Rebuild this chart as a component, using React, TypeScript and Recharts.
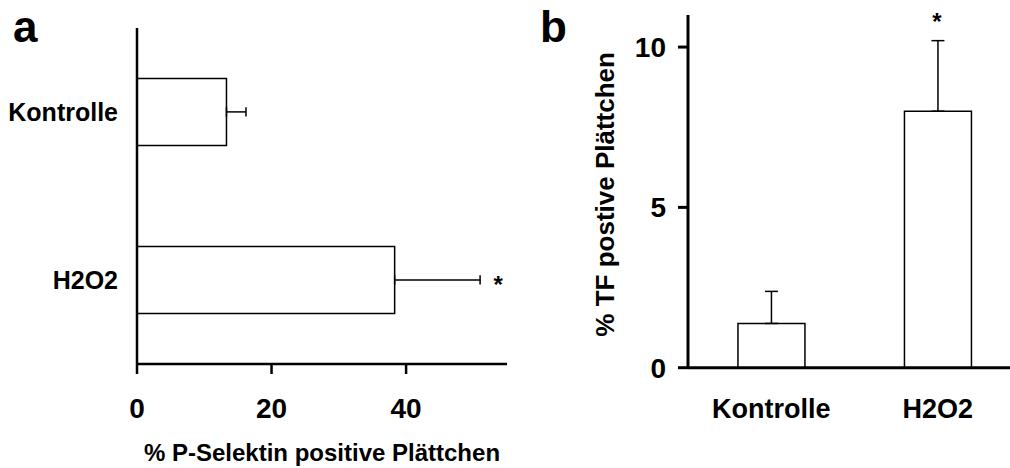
import { Bar, BarChart, ErrorBar, LabelList, XAxis, YAxis } from 'recharts';

// panel a: P-Selektin (horizontal bars), panel b: TF (vertical bars)
const FONT = '"Liberation Sans", Arial, sans-serif';

const catsA = ['Kontrolle', 'H2O2'];
const pselMean = [13.3, 38.3];
const pselErr = [2.9, 12.7];
const starsA = ['', '*'];
const ticksA = [0, 20, 40];

const catsB = ['Kontrolle', 'H2O2'];
const tfMean = [1.38, 8.0];
const tfErr = [1.0, 2.2];
const starsB = ['', '*'];
const ticksB = [0, 5, 10];

const dataA = catsA.map((name, i) => ({
  name,
  value: pselMean[i],
  err: [0, pselErr[i]],
  star: starsA[i],
}));

const dataB = catsB.map((name, i) => ({
  name,
  value: tfMean[i],
  err: [0, tfErr[i]],
  star: starsB[i],
}));

const bold = { fill: '#000', fontFamily: FONT, fontWeight: 'bold' as const };

function pickIndex(props: any, stars: string[]) {
  return typeof props.index === 'number' ? props.index : stars.indexOf(props.value);
}

// star placed to the right of the error bar end (scale taken from the bar itself)
function StarRight(props: any) {
  const i = pickIndex(props, starsA);
  if (i < 0 || !starsA[i]) return null;
  const vb = props.viewBox ?? props;
  const end = vb.x + (vb.width * (pselMean[i] + pselErr[i])) / pselMean[i];
  return (
    <text x={end + 18} y={vb.y + vb.height / 2 + 13} textAnchor="middle" fontSize={24} {...bold}>
      {starsA[i]}
    </text>
  );
}

// star placed above the error bar top
function StarTop(props: any) {
  const i = pickIndex(props, starsB);
  if (i < 0 || !starsB[i]) return null;
  const vb = props.viewBox ?? props;
  const base = vb.y + vb.height;
  const top = base - (vb.height * (tfMean[i] + tfErr[i])) / tfMean[i];
  return (
    <text x={vb.x + vb.width / 2 - 1} y={top - 11} textAnchor="middle" fontSize={24} {...bold}>
      {starsB[i]}
    </text>
  );
}

function TfLabel(props: any) {
  const { x, y, height } = props.viewBox;
  const cx = x + 74;
  const cy = y + height / 2 + 3;
  return (
    <text x={cx} y={cy} transform={`rotate(-90, ${cx}, ${cy})`} textAnchor="middle" fontSize={26} {...bold}>
      % TF postive Plättchen
    </text>
  );
}

export default function App() {
  return (
    <div
      style={{
        position: 'fixed',
        left: 0,
        top: 0,
        width: 1010,
        height: 468,
        overflow: 'hidden',
        background: '#fff',
        fontFamily: FONT,
      }}
    >
      <div style={{ position: 'absolute', left: 13, top: 4.5, fontSize: 44, lineHeight: 1, fontWeight: 'bold' }}>a</div>
      <div style={{ position: 'absolute', left: 540, top: 4.5, fontSize: 44, lineHeight: 1, fontWeight: 'bold' }}>b</div>

      <div style={{ position: 'absolute', left: 0, top: 0 }}>
        <BarChart
          width={520}
          height={468}
          data={dataA}
          layout="vertical"
          barCategoryGap="30%"
          margin={{ top: 28, right: 13, bottom: 0, left: 0 }}
        >
          <XAxis
            type="number"
            domain={[0, 55]}
            ticks={ticksA}
            height={104}
            tickSize={10}
            tickMargin={24}
            axisLine={{ stroke: '#000', strokeWidth: 2.5 }}
            tickLine={{ stroke: '#000', strokeWidth: 2.5 }}
            tick={{ ...bold, fontSize: 28 }}
            label={{
              value: '% P-Selektin positive Plättchen',
              position: 'insideBottom',
              offset: 7,
              fontSize: 24,
              ...bold,
            }}
          />
          <YAxis
            type="category"
            dataKey="name"
            width={137}
            tickLine={false}
            tickSize={0}
            tickMargin={19}
            axisLine={{ stroke: '#000', strokeWidth: 2.5 }}
            tick={{ ...bold, fontSize: 25 }}
          />
          <Bar dataKey="value" fill="#fff" stroke="#000" strokeWidth={1.5} isAnimationActive={false}>
            <ErrorBar dataKey="err" direction="x" width={4.7} stroke="#000" strokeWidth={1.5} isAnimationActive={false} />
            <LabelList dataKey="star" content={StarRight} />
          </Bar>
        </BarChart>
      </div>

      <div style={{ position: 'absolute', left: 540, top: 0 }}>
        <BarChart
          width={481}
          height={468}
          data={dataB}
          barCategoryGap="30%"
          margin={{ top: 15, right: 0, bottom: 0, left: 0 }}
        >
          <XAxis
            type="category"
            dataKey="name"
            height={100.3}
            tickLine={false}
            tickSize={0}
            tickMargin={31}
            axisLine={{ stroke: '#000', strokeWidth: 3 }}
            tick={{ ...bold, fontSize: 27 }}
          />
          <YAxis
            type="number"
            domain={[0, 11]}
            ticks={ticksB}
            width={148}
            tickSize={10}
            tickMargin={12}
            axisLine={{ stroke: '#000', strokeWidth: 3 }}
            tickLine={{ stroke: '#000', strokeWidth: 3 }}
            tick={{ ...bold, fontSize: 28 }}
            label={TfLabel}
          />
          <Bar dataKey="value" fill="#fff" stroke="#000" strokeWidth={1.5} isAnimationActive={false}>
            <ErrorBar dataKey="err" direction="y" width={6.5} stroke="#000" strokeWidth={1.5} isAnimationActive={false} />
            <LabelList dataKey="star" content={StarTop} />
          </Bar>
        </BarChart>
      </div>
    </div>
  );
}
